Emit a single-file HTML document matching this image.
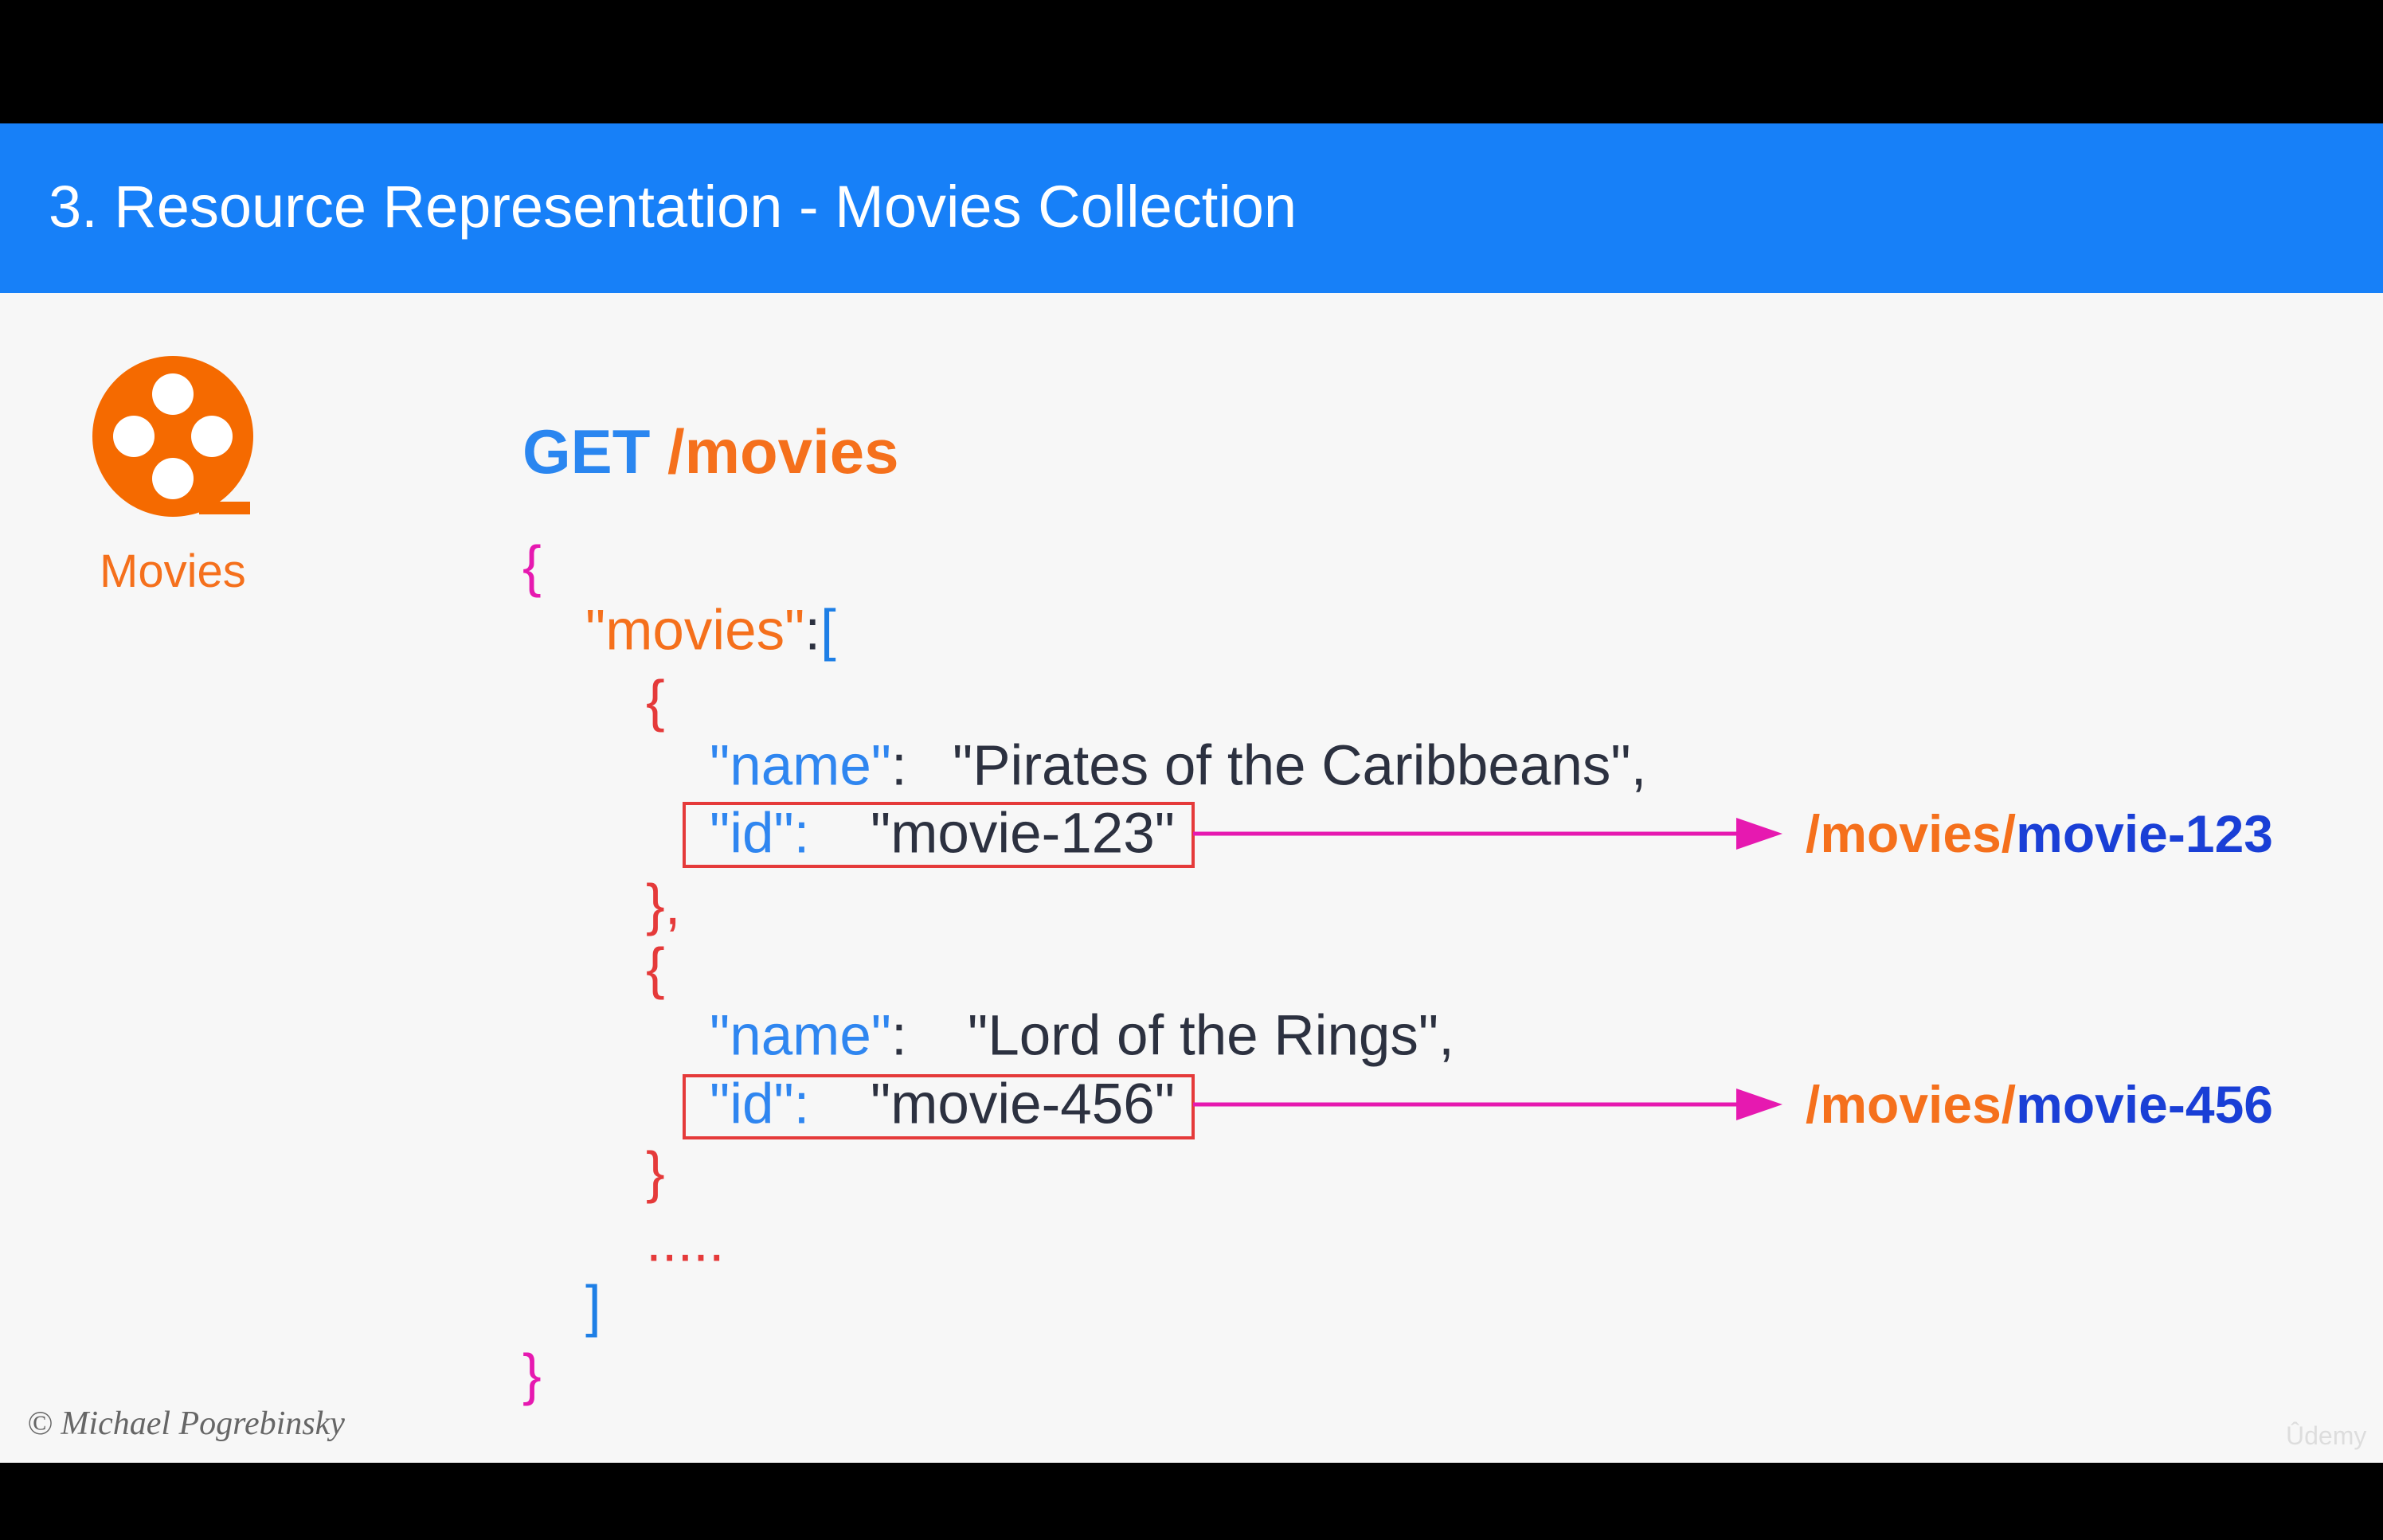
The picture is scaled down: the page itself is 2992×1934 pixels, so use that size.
<!DOCTYPE html>
<html><head><meta charset="utf-8"><style>
html,body{margin:0;padding:0}
body{width:2992px;height:1934px;background:#000;position:relative;overflow:hidden;font-family:"Liberation Sans",Arial,sans-serif}
.t{position:absolute;white-space:nowrap;line-height:1;transform:translateY(-50%)}
.c{font-size:71px}
.k{color:#2f86f0}.v{color:#2c3140}.r{color:#e53a3a}.m{color:#e619b0}.o{color:#f5701c}.b{color:#1e7fe6}
</style></head><body>
<div style="position:absolute;left:0;top:155px;width:2992px;height:213px;background:#1780f8"></div>
<div class="t" style="left:61px;top:260px;font-size:74px;color:#fff">3. Resource Representation - Movies Collection</div>
<div style="position:absolute;left:0;top:368px;width:2992px;height:1469px;background:#f7f7f7"></div>
<svg style="position:absolute;left:110px;top:440px" width="220" height="220" viewBox="0 0 220 220">
<circle cx="107" cy="108" r="101" fill="#f56a00"/>
<rect x="140" y="190" width="64" height="16" fill="#f56a00"/>
<circle cx="107" cy="55" r="26" fill="#fff"/><circle cx="107" cy="161" r="26" fill="#fff"/>
<circle cx="58" cy="108" r="26" fill="#fff"/><circle cx="156" cy="108" r="26" fill="#fff"/>
</svg>
<div class="t o" style="left:125px;top:718px;font-size:58px">Movies</div>
<div class="t" style="left:656px;top:567px;font-size:78px;font-weight:bold"><span style="color:#2a86f0">GET</span> <span class="o">/movies</span></div>
<div class="t c m" style="left:656px;top:712px">{</div>
<div class="t c" style="left:735px;top:792px"><span class="o">"movies"</span><span class="v">:</span><span class="b">[</span></div>
<div class="t c r" style="left:811px;top:881px">{</div>
<div class="t c k" style="left:891px;top:962px">"name"<span class="v">:</span></div>
<div class="t c v" style="left:1196px;top:962px">"Pirates of the Caribbeans",</div>
<div style="position:absolute;left:857px;top:1007px;width:635px;height:75px;border:4px solid #e53a3a"></div>
<div class="t c k" style="left:891px;top:1047px">"id"<span>:</span></div>
<div class="t c v" style="left:1093px;top:1047px">"movie-123"</div>
<div class="t c r" style="left:811px;top:1137px">},</div>
<div class="t c r" style="left:811px;top:1217px">{</div>
<div class="t c k" style="left:891px;top:1301px">"name"<span class="v">:</span></div>
<div class="t c v" style="left:1215px;top:1301px">"Lord of the Rings",</div>
<div style="position:absolute;left:857px;top:1349px;width:635px;height:74px;border:4px solid #e53a3a"></div>
<div class="t c k" style="left:891px;top:1387px">"id"<span>:</span></div>
<div class="t c v" style="left:1093px;top:1387px">"movie-456"</div>
<div class="t c r" style="left:811px;top:1473px">}</div>
<div class="t c r" style="left:811px;top:1560px">.....</div>
<div class="t c b" style="left:735px;top:1641px">]</div>
<div class="t c m" style="left:656px;top:1727px">}</div>
<svg style="position:absolute;left:0;top:0" width="2992" height="1934">
<line x1="1498" y1="1047" x2="2190" y2="1047" stroke="#e619b0" stroke-width="5"/>
<polygon points="2180,1027 2238,1047 2180,1067" fill="#e619b0"/>
<line x1="1498" y1="1387" x2="2190" y2="1387" stroke="#e619b0" stroke-width="5"/>
<polygon points="2180,1367 2238,1387 2180,1407" fill="#e619b0"/>
</svg>
<div class="t" style="left:2267px;top:1047px;font-size:66px;font-weight:bold"><span class="o">/movies/</span><span style="color:#1a3fd6">movie-123</span></div>
<div class="t" style="left:2267px;top:1387px;font-size:66px;font-weight:bold"><span class="o">/movies/</span><span style="color:#1a3fd6">movie-456</span></div>
<div class="t" style="left:34px;top:1788px;font-size:42px;font-style:italic;font-family:'Liberation Serif',serif;color:#666">© Michael Pogrebinsky</div>
<div class="t" style="left:2870px;top:1803px;font-size:32px;color:#ddd">Ûdemy</div>
</body></html>
